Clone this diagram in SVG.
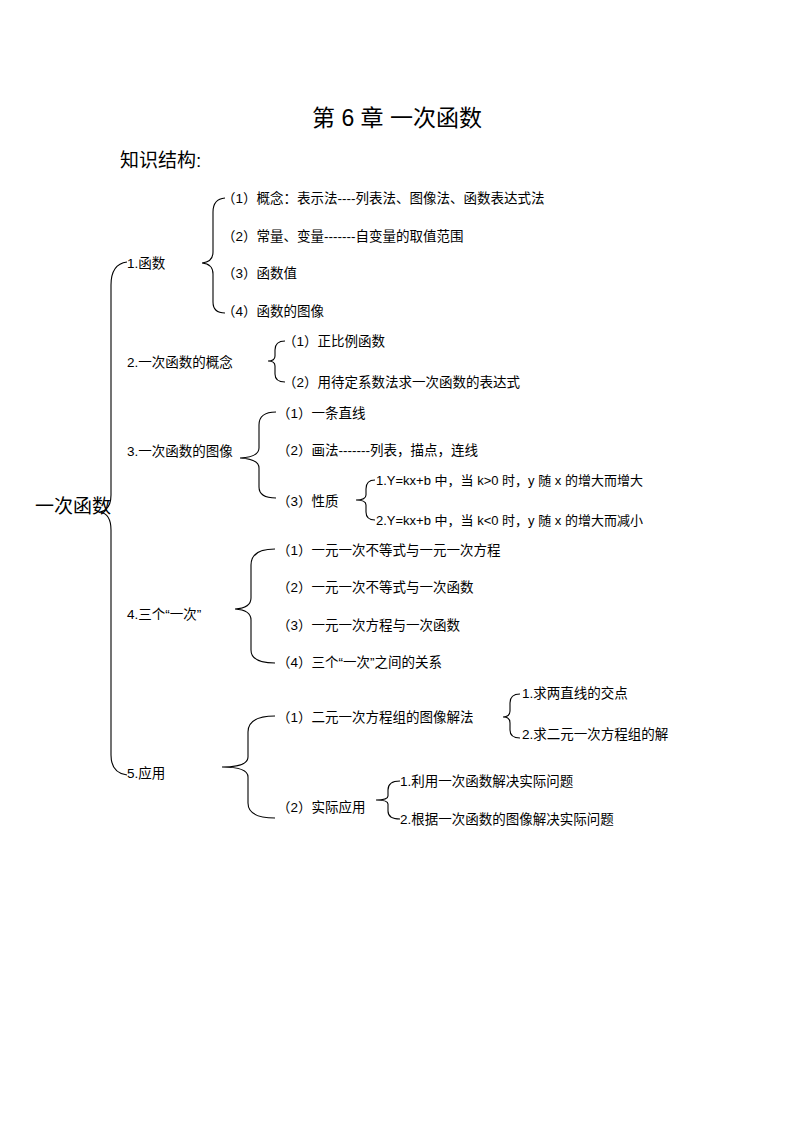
<svg xmlns="http://www.w3.org/2000/svg" width="794" height="1123" viewBox="0 0 794 1123">
<style>
text{font-family:"Liberation Sans","Noto Sans CJK SC",sans-serif;fill:#000}
.n{font-size:13.5px}
.s{font-size:13px}
path{fill:none;stroke:#000;stroke-width:1.1}
</style>
<rect width="794" height="1123" fill="#fff"/>
<text x="397" y="126" font-size="23" text-anchor="middle">第 6 章  一次函数</text>
<text x="120" y="167" font-size="19">知识结构:</text>
<g id="connectors">
<path d="M127,262 Q111,264 111,285 L111,495 Q111,510 100,512 Q111,514 111,530 L111,755 Q111,773 127,775"/>
<path d="M225,198 Q213,199 213,212 L213,252 Q213,262 202,263 Q213,264 213,274 L213,302 Q213,313 225,313"/>
<path d="M285,341 Q275,341 275,350 L275,356 Q275,361 268,361 Q275,361 275,366 L275,374 Q275,382 285,382"/>
<path d="M276,412 Q259,412 259,425 L259,448 Q259,457 240,458 Q259,459 259,468 L259,487 Q259,498 276,498"/>
<path d="M375,480 Q366,480 366,489 L366,495 Q366,500 356,500 Q366,500 366,505 L366,512 Q366,520 375,520"/>
<path d="M275,549 Q251,549 251,565 L251,598 Q251,608 235,609 Q251,610 251,620 L251,650 Q251,663 275,663"/>
<path d="M275,716 Q248,716 248,732 L248,757 Q248,767 222,767 Q248,767 248,777 L248,803 Q248,818 275,818"/>
<path d="M520,694 Q510,694 510,703 L510,711 Q510,717 503,717 Q510,717 510,723 L510,730 Q510,738 520,738"/>
<path d="M400,781 Q388,781 388,790 L388,796 Q388,800 376,800 Q388,800 388,804 L388,811 Q388,819 400,819"/>
</g>
<g id="root"><text x="35" y="513" font-size="19">一次函数</text></g>
<g id="n1"><text class="n" x="127" y="268">1.函数</text></g>
<g id="n1a"><text class="n" x="222" y="203">（1）概念：表示法----列表法、图像法、函数表达式法</text></g>
<g id="n1b"><text class="n" x="222" y="241">（2）常量、变量-------自变量的取值范围</text></g>
<g id="n1c"><text class="n" x="222" y="278">（3）函数值</text></g>
<g id="n1d"><text class="n" x="222" y="316">（4）函数的图像</text></g>
<g id="n2"><text class="n" x="127" y="367">2.一次函数的概念</text></g>
<g id="n2a"><text class="n" x="283" y="346">（1）正比例函数</text></g>
<g id="n2b"><text class="n" x="283" y="387">（2）用待定系数法求一次函数的表达式</text></g>
<g id="n3"><text class="n" x="127" y="456">3.一次函数的图像</text></g>
<g id="n3a"><text class="n" x="277" y="418">（1）一条直线</text></g>
<g id="n3b"><text class="n" x="277" y="455">（2）画法-------列表，描点，连线</text></g>
<g id="n3c"><text class="n" x="277" y="506">（3）性质</text></g>
<g id="n3c1"><text class="s" x="376" y="485">1.Y=kx+b 中，当 k&gt;0 时，y 随 x 的增大而增大</text></g>
<g id="n3c2"><text class="s" x="376" y="525">2.Y=kx+b 中，当 k&lt;0 时，y 随 x 的增大而减小</text></g>
<g id="n4"><text class="n" x="127" y="619">4.三个“一次”</text></g>
<g id="n4a"><text class="n" x="277" y="555">（1）一元一次不等式与一元一次方程</text></g>
<g id="n4b"><text class="n" x="277" y="592">（2）一元一次不等式与一次函数</text></g>
<g id="n4c"><text class="n" x="277" y="630">（3）一元一次方程与一次函数</text></g>
<g id="n4d"><text class="n" x="277" y="667">（4）三个“一次”之间的关系</text></g>
<g id="n5"><text class="n" x="127" y="778">5.应用</text></g>
<g id="n5a"><text class="n" x="277" y="722">（1）二元一次方程组的图像解法</text></g>
<g id="n5a1"><text class="n" x="522" y="698">1.求两直线的交点</text></g>
<g id="n5a2"><text class="n" x="522" y="739">2.求二元一次方程组的解</text></g>
<g id="n5b"><text class="n" x="277" y="812">（2）实际应用</text></g>
<g id="n5b1"><text class="n" x="400" y="786">1.利用一次函数解决实际问题</text></g>
<g id="n5b2"><text class="n" x="400" y="824">2.根据一次函数的图像解决实际问题</text></g>
</svg>
